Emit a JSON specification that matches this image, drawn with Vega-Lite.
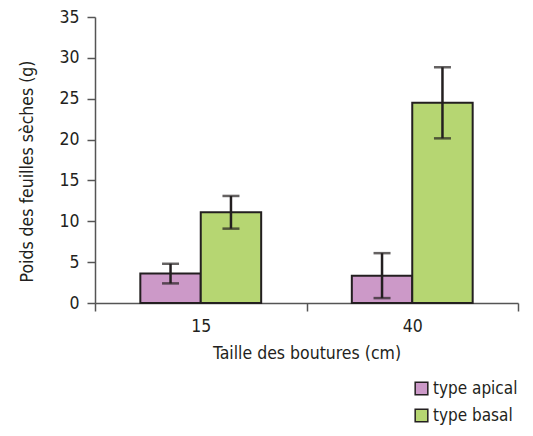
{
  "$schema": "https://vega.github.io/schema/vega-lite/v6.json",
  "autosize": {"type": "none"},
  "width": 423,
  "height": 286,
  "padding": {"left": 95, "top": 17, "right": 15, "bottom": 133},
  "background": "white",
  "config": {
    "view": {"stroke": null},
    "font": "DejaVu Sans Condensed",
    "axis": {"labelFont": "DejaVu Sans Condensed", "titleFont": "DejaVu Sans Condensed", "labelColor": "#231f20", "titleColor": "#231f20", "titleFontWeight": "normal", "domainColor": "#555", "tickColor": "#555", "domainWidth": 1.5, "tickWidth": 1.5}
  },
  "data": {
    "values": [
      {"taille": "15", "type": "type apical", "value": 3.6, "lo": 2.4, "hi": 4.8},
      {"taille": "15", "type": "type basal", "value": 11.1, "lo": 9.1, "hi": 13.1},
      {"taille": "40", "type": "type apical", "value": 3.35, "lo": 0.6, "hi": 6.1},
      {"taille": "40", "type": "type basal", "value": 24.5, "lo": 20.15, "hi": 28.85}
    ]
  },
  "encoding": {
    "x": {
      "field": "taille", "type": "nominal",
      "scale": {"paddingInner": 0, "paddingOuter": 0},
      "axis": {"title": "Taille des boutures (cm)", "labelAngle": 0, "tickBand": "extent", "tickSize": 8, "labelFontSize": 17.5, "titleFontSize": 17.5, "labelPadding": 6, "titlePadding": 10}
    },
    "xOffset": {"field": "type", "type": "nominal", "scale": {"paddingInner": 0, "paddingOuter": 0.75}}
  },
  "layer": [
    {
      "mark": {"type": "bar", "stroke": "#231f20", "strokeWidth": 2},
      "encoding": {
        "y": {
          "field": "value", "type": "quantitative",
          "scale": {"domain": [0, 35]},
          "axis": {"title": "Poids des feuilles sèches (g)", "values": [0, 5, 10, 15, 20, 25, 30, 35], "grid": false, "tickSize": 8, "labelFontSize": 17.5, "titleFontSize": 17.5, "labelPadding": 8, "titlePadding": 22, "titleY": 154}
        },
        "fill": {
          "field": "type", "type": "nominal",
          "scale": {"domain": ["type apical", "type basal"], "range": ["#cc99c8", "#b6d672"]},
          "legend": {"title": null, "orient": "none", "legendX": 318, "legendY": 363, "labelFontSize": 17, "labelFont": "DejaVu Sans Condensed", "labelColor": "#231f20", "symbolType": "square", "symbolSize": 160, "symbolStrokeColor": "#231f20", "symbolStrokeWidth": 1.5, "rowPadding": 8, "labelOffset": 3}
        }
      }
    },
    {
      "mark": {"type": "rule", "color": "#231f20", "strokeWidth": 2.5},
      "encoding": {
        "y": {"field": "lo", "type": "quantitative"},
        "y2": {"field": "hi"}
      }
    },
    {
      "mark": {"type": "tick", "color": "#231f20", "thickness": 2.5, "size": 17},
      "encoding": {"y": {"field": "lo", "type": "quantitative"}}
    },
    {
      "mark": {"type": "tick", "color": "#231f20", "thickness": 2.5, "size": 17},
      "encoding": {"y": {"field": "hi", "type": "quantitative"}}
    }
  ]
}
